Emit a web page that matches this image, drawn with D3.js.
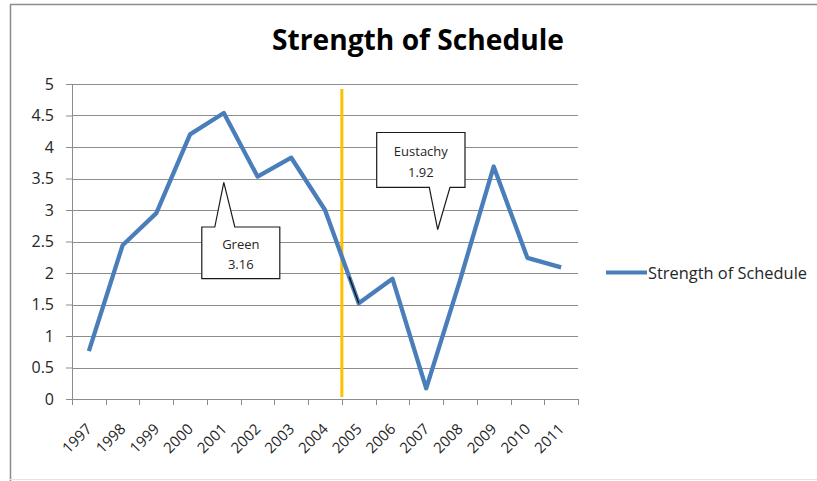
<!DOCTYPE html>
<html>
<head>
<meta charset="utf-8">
<script src="https://cdn.jsdelivr.net/npm/d3@7"></script>
<style>
  body { margin: 0; background: #fff; }
  text { font-family: "Open Sans", "Liberation Sans", sans-serif; fill: #262626; }
</style>
</head>
<body>
<svg id="chart" width="817" height="481"></svg>
<script>
// chart data
const years = ["1997","1998","1999","2000","2001","2002","2003","2004","2005","2006","2007","2008","2009","2010","2011"];
const strength = [0.76, 2.44, 2.95, 4.20, 4.54, 3.53, 3.83, 3.00, 1.52, 1.91, 0.17, 1.88, 3.69, 2.24, 2.09];
const yTicks = [0, 0.5, 1, 1.5, 2, 2.5, 3, 3.5, 4, 4.5, 5];
const seriesName = "Strength of Schedule";
const callouts = [
  {year: "2001", name: "Green", value: "3.16", tip: 3.44, top: 2.73, bottom: 1.91, dx: 0, left: -22, right: 56, b0: -9, b1: 11, down: false},
  {year: "2007", name: "Eustachy", value: "1.92", tip: 2.69, top: 4.23, bottom: 3.36, dx: 11.5, left: -61, right: 27.3, b0: -8.4, b1: 12.3, down: true}
];
const splitYear = "2005";

const margin = {top: 84, right: 239, bottom: 82, left: 72};
const width = 817 - margin.left - margin.right;
const height = 481 - margin.top - margin.bottom;

const svg = d3.select("#chart");

// outer frame
svg.append("path")
  .attr("d", "M10.5,481 V4.5 H817")
  .attr("fill", "none").attr("stroke", "#8c8c8c").attr("stroke-width", 1.5);
svg.append("line")
  .attr("x1", 10).attr("x2", 817).attr("y1", 479.5).attr("y2", 479.5)
  .attr("stroke", "#e4e4e4");

// title
svg.append("text")
  .attr("x", 418).attr("y", 50)
  .attr("text-anchor", "middle")
  .attr("textLength", 292).attr("lengthAdjust", "spacingAndGlyphs")
  .style("font-size", "29px").style("font-weight", "bold")
  .style("fill", "#000")
  .text(seriesName);

const g = svg.append("g").attr("transform", `translate(${margin.left},${margin.top})`);

const x = d3.scaleBand().domain(years).range([0, width]);
const y = d3.scaleLinear().domain([0, 5]).range([height, 0]);
const xc = d => x(d) + x.bandwidth() / 2;

// gridlines
g.append("g")
  .selectAll("line")
  .data(yTicks.filter(d => d > 0))
  .join("line")
    .attr("x1", 0).attr("x2", width)
    .attr("y1", d => Math.round(y(d)) + 0.5).attr("y2", d => Math.round(y(d)) + 0.5)
    .attr("stroke", "#8c8c8c").attr("stroke-width", 1);

// y axis
const yAxis = g.append("g")
  .call(d3.axisLeft(y).tickValues(yTicks).tickSize(6).tickPadding(12).tickFormat(d3.format("")));
yAxis.select(".domain").attr("stroke", "#8c8c8c");
yAxis.selectAll(".tick line").attr("stroke", "#8c8c8c");
yAxis.selectAll(".tick text")
  .style("font-size", "16px").style("font-family", "\"Open Sans\", sans-serif").attr("fill", "#262626");

// x axis
const xAxis = g.append("g")
  .attr("transform", `translate(0,${height})`)
  .call(d3.axisBottom(x).tickSize(0).tickPadding(0));
xAxis.select(".domain").attr("stroke", "#8c8c8c");
xAxis.selectAll(".tick line").remove();
xAxis.append("g")
  .selectAll("line")
  .data(years.concat(["end"]))
  .join("line")
    .attr("x1", (d, i) => Math.round(i * x.bandwidth()) + 0.5)
    .attr("x2", (d, i) => Math.round(i * x.bandwidth()) + 0.5)
    .attr("y1", 0).attr("y2", 6)
    .attr("stroke", "#8c8c8c");
xAxis.selectAll(".tick text")
  .attr("text-anchor", "end")
  .attr("dy", 0)
  .attr("transform", "translate(4,31) rotate(-45)")
  .style("font-size", "15px").style("font-family", "\"Open Sans\", sans-serif").attr("fill", "#262626");

// divider
g.append("line")
  .attr("x1", x(splitYear)).attr("x2", x(splitYear))
  .attr("y1", y(4.92)).attr("y2", y(0.03))
  .attr("stroke", "#ffc000").attr("stroke-width", 3);

// series line
const line = d3.line()
  .x((d, i) => xc(years[i]))
  .y(d => y(d));
g.append("path")
  .datum(strength)
  .attr("fill", "none")
  .attr("stroke", "#4a7ebb")
  .attr("stroke-width", 4.3)
  .attr("stroke-linejoin", "round")
  .attr("d", line);

// stray black connector near 2005
g.append("line")
  .attr("x1", xc(splitYear) - 9.5).attr("y1", y(1.94))
  .attr("x2", xc(splitYear)).attr("y2", y(strength[years.indexOf(splitYear)]))
  .attr("stroke", "#111").attr("stroke-width", 1.3);

// callouts
callouts.forEach(c => {
  const cx = xc(c.year) + c.dx;
  const L = cx + c.left, R = cx + c.right;
  const T = y(c.top), B = y(c.bottom);
  const tipY = y(c.tip);
  let d;
  if (!c.down) {
    d = `M${L},${T} H${cx + c.b0} L${cx},${tipY} L${cx + c.b1},${T} H${R} V${B} H${L} Z`;
  } else {
    d = `M${L},${T} H${R} V${B} H${cx + c.b1} L${cx},${tipY} L${cx + c.b0},${B} H${L} Z`;
  }
  g.append("path")
    .attr("d", d)
    .attr("fill", "#fff")
    .attr("stroke", "#1a1a1a").attr("stroke-width", 1.2);
  const mid = (L + R) / 2;
  const h = B - T;
  g.append("text").attr("x", mid).attr("y", T + h * 0.42)
    .attr("text-anchor", "middle").style("font-size", "13px").text(c.name);
  g.append("text").attr("x", mid).attr("y", T + h * 0.81)
    .attr("text-anchor", "middle").style("font-size", "13px").text(c.value);
});

// legend
const legend = svg.append("g").attr("transform", "translate(606,272.5)");
legend.append("line")
  .attr("x1", 0).attr("x2", 41).attr("y1", 0).attr("y2", 0)
  .attr("stroke", "#4a7ebb").attr("stroke-width", 4);
legend.append("text")
  .attr("x", 42).attr("y", 6)
  .style("font-size", "16.4px")
  .text(seriesName);
</script>
</body>
</html>
